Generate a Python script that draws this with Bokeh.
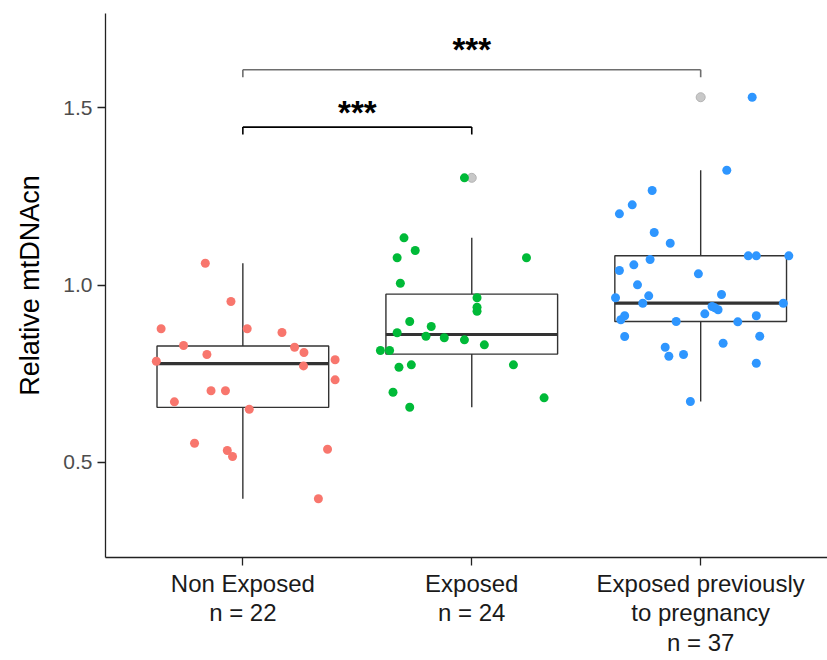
import numpy as np
from bokeh.plotting import figure
from bokeh.models import Range1d, FixedTicker, PrintfTickFormatter, ColumnDataSource
from bokeh.core.properties import value
from bokeh.embed import file_html
from bokeh.resources import INLINE

# ---------------- data ----------------
categories = ["Non Exposed", "Exposed", "Exposed previously\nto pregnancy"]
group_n = [22, 24, 37]

non_exposed = [1.0618, 0.9537, 0.8767, 0.8767, 0.8662, 0.8295, 0.8247, 0.8098,
               0.8041, 0.7852, 0.7892, 0.7720, 0.7327, 0.7017, 0.7017, 0.6706,
               0.6497, 0.5538, 0.5332, 0.5162, 0.5368, 0.3970]
non_exposed_jitter = [-0.164, -0.052, -0.357, 0.019, 0.171, -0.259, 0.226, 0.267,
                      -0.157, -0.378, 0.403, 0.265, 0.403, -0.139, -0.076, -0.299,
                      0.028, -0.211, -0.068, -0.045, 0.370, 0.330]

exposed = [1.3028, 1.1335, 1.0977, 1.0771, 1.0771, 1.0054, 0.9642, 0.9376,
           0.9263, 0.8973, 0.8831, 0.8654, 0.8558, 0.8513, 0.8456, 0.8315,
           0.8154, 0.8154, 0.7683, 0.7750, 0.7750, 0.6977, 0.6819, 0.6554]
exposed_jitter = [-0.032, -0.296, -0.247, -0.326, 0.239, -0.312, 0.023, 0.023,
                  0.023, -0.271, -0.177, -0.326, -0.200, -0.120, -0.032, 0.055,
                  -0.399, -0.359, -0.318, -0.264, 0.182, -0.344, 0.316, -0.271]

previously = [1.5303, 1.3243, 1.2670, 1.2266, 1.2012, 1.1485, 1.1183, 1.0723,
              1.0827, 1.0827, 1.0827, 1.0573, 1.0412, 1.0319, 1.0008, 0.9642,
              0.9698, 0.9735, 0.9489, 0.9489, 0.9396, 0.9303, 0.9359, 0.9190,
              0.9134, 0.9021, 0.8973, 0.8964, 0.9134, 0.8549, 0.8558, 0.8360,
              0.8247, 0.7993, 0.8041, 0.7796, 0.6715]
previously_jitter = [0.225, 0.114, -0.212, -0.299, -0.355, -0.203, -0.133, -0.221,
                     0.208, 0.243, 0.385, -0.292, -0.355, -0.010, -0.276, -0.372,
                     -0.227, 0.091, -0.253, 0.361, 0.050, 0.076, 0.062, 0.018,
                     -0.332, -0.349, -0.107, 0.162, 0.243, -0.332, 0.258, 0.098,
                     -0.155, -0.139, -0.075, 0.243, -0.045]

groups = [non_exposed, exposed, previously]
jitters = [non_exposed_jitter, exposed_jitter, previously_jitter]
group_colors = ["#F8766D", "#00BA38", "#2E96FF"]

comparisons = [(1, 2), (1, 3)]
bracket_y = [1.446, 1.608]
bracket_label_y = [1.486, 1.665]
bracket_labels = ["***", "***"]
bracket_colors = ["#000000", "#6E6E6E"]

y_ticks = [0.5, 1.0, 1.5]
y_title = "Relative mtDNAcn"

# ---------------- figure ----------------
p = figure(width=827, height=658,
           x_range=Range1d(0.4, 3.554), y_range=Range1d(0.2312, 1.7666),
           output_backend="svg", toolbar_location=None,
           min_border_left=105, min_border_right=0, min_border_top=13, min_border_bottom=101)
p.outline_line_color = None
p.xgrid.visible = False
p.ygrid.visible = False
p.background_fill_color = "white"
p.border_fill_color = "white"

# ---------------- box statistics from the data ----------------
box_w = 0.375
wx, wlo, whi, bl, br, q1s, q3s, meds = [], [], [], [], [], [], [], []
out_x, out_y = [], []
for i, vals in enumerate(groups):
    v = np.array(vals)
    q1, med, q3 = np.percentile(v, [25, 50, 75])
    iqr = q3 - q1
    inside = v[(v >= q1 - 1.5 * iqr) & (v <= q3 + 1.5 * iqr)]
    pos = i + 1
    wx.append(pos)
    wlo.append(inside.min())
    whi.append(inside.max())
    bl.append(pos - box_w)
    br.append(pos + box_w)
    q1s.append(q1)
    q3s.append(q3)
    meds.append(med)
    for o in v[(v < q1 - 1.5 * iqr) | (v > q3 + 1.5 * iqr)]:
        out_x.append(pos)
        out_y.append(o)

box_src = ColumnDataSource(dict(x=wx, lo=wlo, hi=whi, left=bl, right=br,
                                q1=q1s, q3=q3s, med=meds))
line_col = "#333333"
p.segment(x0="x", y0="lo", x1="x", y1="q1", source=box_src, line_color=line_col, line_width=1.4)
p.segment(x0="x", y0="q3", x1="x", y1="hi", source=box_src, line_color=line_col, line_width=1.4)
p.quad(left="left", right="right", bottom="q1", top="q3", source=box_src,
       fill_color="white", line_color=line_col, line_width=1.4)
p.segment(x0="left", y0="med", x1="right", y1="med", source=box_src,
          line_color=line_col, line_width=3.2)
p.scatter(out_x, out_y, size=9, fill_color="#C8C8C8", line_color="#B4B4B4", line_width=1)

# ---------------- jittered points ----------------
for i, (vals, jit) in enumerate(zip(groups, jitters)):
    xs = [i + 1 + j for j in jit]
    p.scatter(xs, vals, size=9, fill_color=group_colors[i], line_color=None)

# ---------------- significance brackets ----------------
tip = 0.021
for (a, b), yb, yl, lab, col in zip(comparisons, bracket_y, bracket_label_y,
                                    bracket_labels, bracket_colors):
    p.segment(x0=[a, a, b], y0=[yb, yb, yb], x1=[b, a, b], y1=[yb, yb - tip, yb - tip],
              line_color=col, line_width=1.6)
    p.text(x=[(a + b) / 2], y=[yl], text=[lab], text_align="center",
           text_baseline="alphabetic", text_font=value("Liberation Sans"),
           text_font_style="bold", text_font_size="33px", text_color="black")

# ---------------- axes ----------------
xa = p.xaxis[0]
xa.ticker = FixedTicker(ticks=[1, 2, 3])
xa.major_label_overrides = {i + 1: f"{c}\nn = {n}" for i, (c, n) in enumerate(zip(categories, group_n))}
xa.minor_tick_line_color = None
xa.major_tick_in = 0
xa.major_tick_out = 8
xa.major_label_standoff = 4
xa.major_label_text_font = "Liberation Sans"
xa.major_label_text_font_size = "24px"
xa.major_label_text_color = "#1A1A1A"
xa.major_label_text_line_height = 1.1
xa.axis_line_color = "#222222"
xa.axis_line_width = 1.3
xa.major_tick_line_color = "#222222"
xa.major_tick_line_width = 1.3

ya = p.yaxis[0]
ya.ticker = FixedTicker(ticks=y_ticks)
ya.formatter = PrintfTickFormatter(format="%.1f")
ya.minor_tick_line_color = None
ya.major_tick_in = 0
ya.major_tick_out = 8
ya.major_label_standoff = 5
ya.major_label_text_font = "Liberation Sans"
ya.major_label_text_font_size = "21px"
ya.major_label_text_color = "#4D4D4D"
ya.axis_line_color = "#222222"
ya.axis_line_width = 1.3
ya.major_tick_line_color = "#222222"
ya.major_tick_line_width = 1.3
ya.axis_label = y_title
ya.axis_label_text_font = "Liberation Sans"
ya.axis_label_text_font_size = "27px"
ya.axis_label_text_font_style = "normal"
ya.axis_label_text_color = "black"
ya.axis_label_standoff = 15

open("out.html", "w").write(file_html(p, INLINE))
